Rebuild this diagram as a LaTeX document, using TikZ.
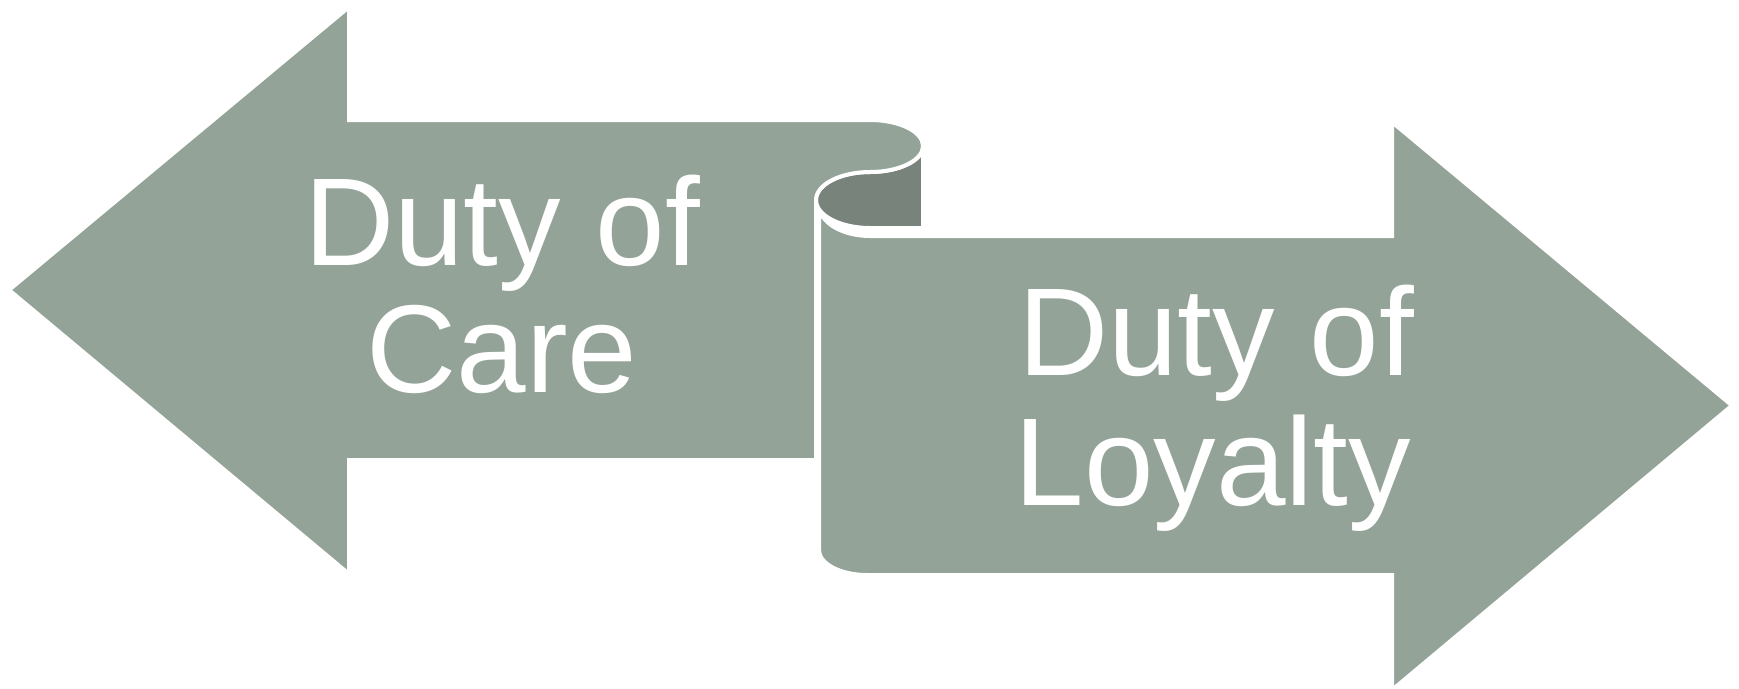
\documentclass[tikz,border=0pt]{standalone}
\usepackage{fontspec}
\setmainfont{Liberation Sans}
\definecolor{sage}{RGB}{147,163,152}
\definecolor{sagedark}{RGB}{120,131,123}
\begin{document}
\begin{tikzpicture}[x=1pt,y=-1pt,
  shapebox/.style={fill=sage,draw=white,line width=4pt,line join=miter},
  curlbox/.style={fill=sagedark,draw=white,line width=4pt},
  label/.style={text=white,anchor=base,inner sep=0pt,font=\fontsize{125}{130}\selectfont}]
\useasboundingbox (0,0) rectangle (1739,688);
% right arrow (Duty of Loyalty)
\path[shapebox] (819,205) -- (819,550) arc[start angle=180,end angle=90,x radius=48,y radius=25]
  -- (1392,575) -- (1392,690) -- (1732,405.5) -- (1392,122) -- (1392,236) -- (870,236)
  arc[start angle=90,end angle=180,x radius=51,y radius=31] -- cycle;
% dark inner curl
\path[curlbox] (870,228) arc[start angle=90,end angle=270,x radius=54,y radius=28]
  arc[start angle=90,end angle=0,x radius=53,y radius=26] -- (923,228) -- cycle;
% left arrow (Duty of Care)
\path[shapebox] (9,290) -- (349,7) -- (349,120) -- (870,120)
  arc[start angle=-90,end angle=90,x radius=53,y radius=26]
  arc[start angle=270,end angle=180,x radius=54,y radius=28]
  -- (816,460) -- (349,460) -- (349,574) -- cycle;
% labels
\node[label] (care1) at (502,265) {Duty of};
\node[label] (care2) at (502,392) {Care};
\node[label] (loy1) at (1216,375) {Duty of};
\node[label] (loy2) at (1213,505) {Loyalty};
\end{tikzpicture}
\end{document}
